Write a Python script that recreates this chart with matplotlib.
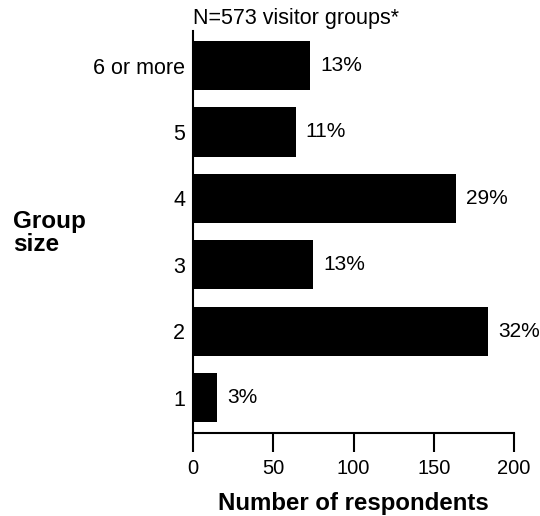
import matplotlib.pyplot as plt

plt.rcParams['font.family'] = ['Liberation Sans', 'DejaVu Sans']

# data
group_sizes = ['1', '2', '3', '4', '5', '6 or more']
respondents = [15, 184, 75, 164, 64, 73]
percent_labels = ['3%', '32%', '13%', '29%', '11%', '13%']
title_text = 'N=573 visitor groups*'

fig = plt.figure(figsize=(5.4, 5.16), dpi=100)
ax = fig.add_axes([193 / 540, 1 - 433 / 516, 321 / 540, 402 / 516])

positions = list(range(len(group_sizes)))
bars = ax.barh(positions, respondents, height=0.74, color='black')

for bar, label in zip(bars, percent_labels):
    ax.annotate(label, xy=(bar.get_width(), bar.get_y() + bar.get_height() / 2),
                xytext=(7, 0), textcoords='offset points',
                va='center', ha='left', fontsize=15)

ax.set_xlim(0, 200)
ax.set_ylim(-0.53, 5.52)
ax.set_xticks([0, 50, 100, 150, 200])
ax.set_yticks(positions)
ax.set_yticklabels(group_sizes)

ax.spines['top'].set_visible(False)
ax.spines['right'].set_visible(False)
ax.spines['left'].set_linewidth(1.5)
ax.spines['bottom'].set_linewidth(1.5)
ax.tick_params(axis='x', length=14, width=1.5, labelsize=14.5, pad=5)
ax.tick_params(axis='y', length=0, labelsize=15.5, pad=5.5)

ax.set_xlabel('Number of respondents', fontsize=17.3, fontweight='bold', labelpad=10)
fig.text(13 / 540, 1 - 233 / 516, 'Group\nsize', ha='left', va='center',
         fontsize=17.5, fontweight='bold', linespacing=1.05)

ax.annotate(title_text, xy=(0, 1), xycoords='axes fraction',
            xytext=(0, 5), textcoords='offset points',
            ha='left', va='baseline', fontsize=15.5)

fig.savefig('out.png', dpi=100)
